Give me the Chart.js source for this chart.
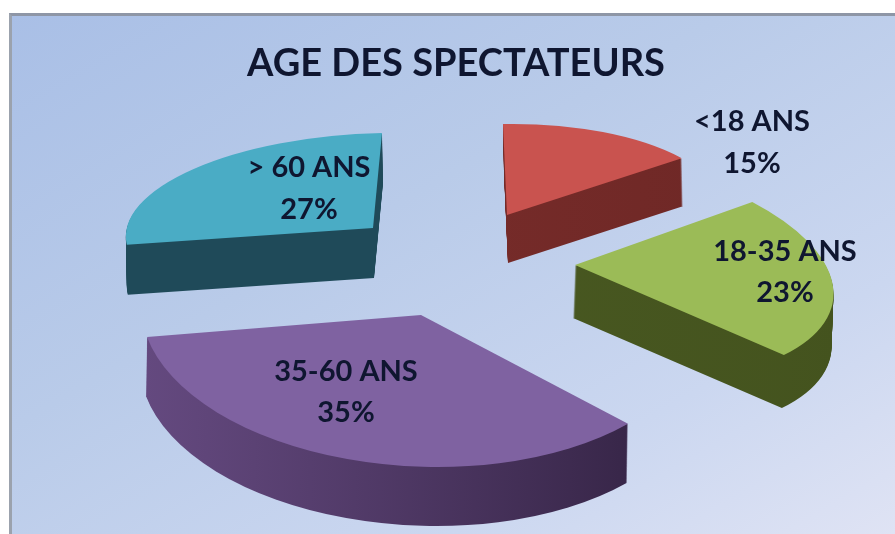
<!DOCTYPE html>
<html>
<head>
<meta charset="utf-8">
<title>Age des spectateurs</title>
<script src="https://cdn.jsdelivr.net/npm/chart.js@4"></script>
<style>
  html, body { margin: 0; padding: 0; background: #fff; overflow: hidden; }
  #cadre {
    position: absolute; left: 9px; top: 13px; width: 886px; height: 521px; box-sizing: border-box;
    border-left: 3px solid #9ba2ad; border-top: 3px solid #8e96a6;
    background: linear-gradient(150deg, #a9bfe6 0%, #b9cbe9 40%, #cbd7f0 75%, #dfe3f4 100%);
  }
  #graphe { position: absolute; left: 0; top: 0; filter: blur(0.6px); }
</style>
</head>
<body>
<div id="cadre"></div>
<canvas id="graphe" width="895" height="534"></canvas>
<script>
const titre = "AGE DES SPECTATEURS";
const categories = ["<18 ANS", "18-35 ANS", "35-60 ANS", "> 60 ANS"];
const valeurs = [15, 23, 35, 27];

const couleurs = ["#c9534f", "#9bbb57", "#7f62a1", "#4aacc5"];
const flancGauche = ["#7a2d2b", "#4a5a22", "#64497f", "#1f4a59"];
const flancDroit = ["#6f2826", "#44531e", "#30203f", "#1f4a59"];

// la vue de chaque part : [a, b, c, d, sommetX, sommetY, epaisseurX, epaisseurY]
const vues = [
  [219, -4, 4, 91, 507, 215, 1, 48],
  [254, 7, 48, 117, 575, 265, -2, 53],
  [279, -3, 22, 152, 421, 315, -1, 59],
  [247, -5, -9, 95, 373, 228, 1, 50]
];
// ordre de dessin : du fond vers l'avant
const ordre = [3, 0, 1, 2];
// centre des etiquettes : [x, y ligne 1, y ligne 2]
const etiquettes = [
  [752, 122, 164],
  [785, 252, 293],
  [346, 372, 413],
  [309, 168, 210]
];

function placerVue(ctx, arc, vue, k) {
  const R = arc.outerRadius;
  const [a, b, c, d, sx, sy, ex, ey] = vue;
  ctx.translate(ex * k, ey * k);
  ctx.transform(a / R, b / R, c / R, d / R,
    sx - (a * arc.x + c * arc.y) / R,
    sy - (b * arc.x + d * arc.y) / R);
}

const partsEn3D = {
  id: "partsEn3D",
  beforeDatasetsDraw(chart) {
    const ctx = chart.ctx;
    const parts = chart.getDatasetMeta(0).data;
    ordre.forEach(i => {
      const arc = parts[i];
      const vue = vues[i];
      const couleur = arc.options.backgroundColor;
      const R = arc.outerRadius;
      const degrade = ctx.createLinearGradient(arc.x - R, 0, arc.x + R, 0);
      degrade.addColorStop(0, flancGauche[i]);
      degrade.addColorStop(1, flancDroit[i]);
      arc.options.backgroundColor = degrade;
      const pas = vue[7];
      for (let p = pas; p >= 1; p--) {
        ctx.save();
        placerVue(ctx, arc, vue, p / pas);
        arc.draw(ctx);
        ctx.restore();
      }
      arc.options.backgroundColor = couleur;
      ctx.save();
      placerVue(ctx, arc, vue, 0);
      arc.draw(ctx);
      ctx.restore();
    });
    ctx.save();
    ctx.font = "bold 29px Lato";
    ctx.fillStyle = "#0f1630";
    ctx.textAlign = "center";
    ctx.textBaseline = "middle";
    categories.forEach((nom, i) => {
      ctx.fillText(nom, etiquettes[i][0], etiquettes[i][1]);
      ctx.fillText(valeurs[i] + "%", etiquettes[i][0], etiquettes[i][2]);
    });
    ctx.restore();
    return false;
  }
};

new Chart(document.getElementById("graphe").getContext("2d"), {
  type: "pie",
  data: {
    labels: categories,
    datasets: [{
      data: valeurs,
      backgroundColor: couleurs,
      borderWidth: 0
    }]
  },
  options: {
    responsive: false,
    animation: false,
    events: [],
    layout: { padding: { left: 17, top: 41 } },
    plugins: {
      legend: { display: false },
      tooltip: { enabled: false },
      title: {
        display: true,
        text: titre,
        color: "#0f1630",
        font: { family: "Lato", size: 38, weight: "bold" },
        padding: 0
      }
    }
  },
  plugins: [partsEn3D]
});
</script>
</body>
</html>
